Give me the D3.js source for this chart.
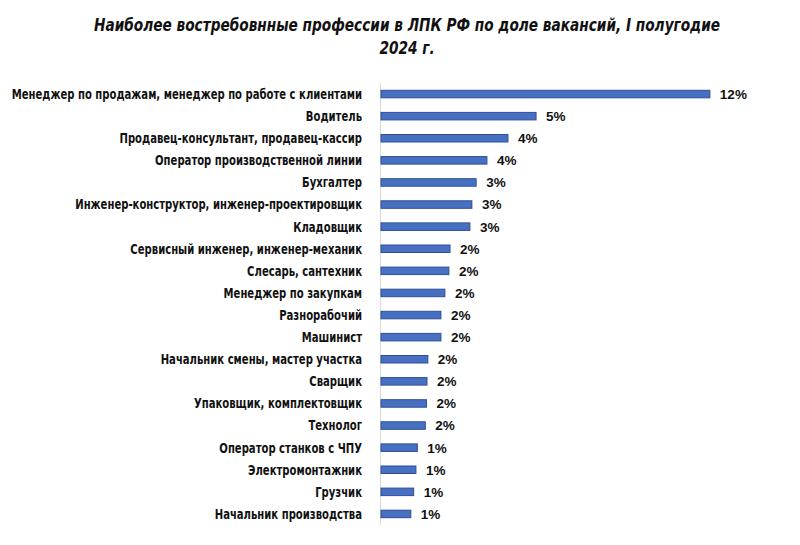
<!DOCTYPE html>
<html><head><meta charset="utf-8">
<script src="https://cdn.jsdelivr.net/npm/d3@7"></script>
<style>
html,body{margin:0;padding:0;background:#fff;}
svg{display:block;}
</style></head>
<body>
<svg id="chart" width="800" height="545"></svg>
<script>
const titleLines = ["Наиболее востребовнные профессии  в ЛПК РФ по доле вакансий, I полугодие", "2024 г."];
const categories = [
  "Менеджер по продажам, менеджер по работе с клиентами",
  "Водитель",
  "Продавец-консультант, продавец-кассир",
  "Оператор производственной линии",
  "Бухгалтер",
  "Инженер-конструктор, инженер-проектировщик",
  "Кладовщик",
  "Сервисный инженер, инженер-механик",
  "Слесарь, сантехник",
  "Менеджер по закупкам",
  "Разнорабочий",
  "Машинист",
  "Начальник смены, мастер участка",
  "Сварщик",
  "Упаковщик, комплектовщик",
  "Технолог",
  "Оператор станков с ЧПУ",
  "Электромонтажник",
  "Грузчик",
  "Начальник производства"
];
const values = [11.58, 5.46, 4.47, 3.73, 3.35, 3.20, 3.13, 2.43, 2.39, 2.25, 2.11, 2.11, 1.65, 1.62, 1.60, 1.56, 1.28, 1.23, 1.15, 1.05];

const svg = d3.select("#chart");
const axisX = 381;
const x = d3.scaleLinear().domain([0, 1]).range([axisX, axisX + 28.4]);
const y = d3.scaleBand().domain(categories).range([83, 525]).paddingInner(0.66).paddingOuter(0.33);

const condensed = "'DejaVu Sans Condensed','Liberation Sans Narrow','Arial Narrow',sans-serif";
const plain = "'Liberation Sans',Arial,sans-serif";

svg.append("g").selectAll("text").data(titleLines).join("text")
  .attr("transform", (d, i) => `translate(407,${31 + i * 23}) scale(0.845,1)`)
  .attr("text-anchor", "middle")
  .style("font-family", condensed).style("font-weight", "bold").style("font-style", "italic")
  .style("font-size", "18px").attr("fill", "#111")
  .text(d => d);

svg.append("line").attr("x1", axisX - 0.5).attr("x2", axisX - 0.5)
  .attr("y1", 83).attr("y2", 525).attr("stroke", "#d9d9d9").attr("stroke-width", 1);

svg.append("g").selectAll("rect").data(values).join("rect")
  .attr("x", x(0))
  .attr("y", (d, i) => y(categories[i]))
  .attr("width", d => x(d) - x(0))
  .attr("height", y.bandwidth())
  .attr("fill", "#4870c2").attr("stroke", "#2d4f98").attr("stroke-width", 1);

svg.append("g").selectAll("text").data(categories).join("text")
  .attr("transform", d => `translate(362,${y(d) + y.bandwidth() / 2}) scale(0.8,1)`)
  .attr("dy", "0.35em")
  .attr("text-anchor", "end")
  .style("font-family", condensed).style("font-weight", "bold").style("font-size", "14px")
  .attr("fill", "#111")
  .text(d => d);

svg.append("g").selectAll("text").data(values).join("text")
  .attr("x", d => x(d) + 10)
  .attr("y", (d, i) => y(categories[i]) + y.bandwidth() / 2)
  .attr("dy", "0.36em")
  .style("font-family", plain).style("font-weight", "bold").style("font-size", "13.5px")
  .attr("fill", "#111")
  .text(d => Math.round(d) + "%");
</script>
</body></html>
